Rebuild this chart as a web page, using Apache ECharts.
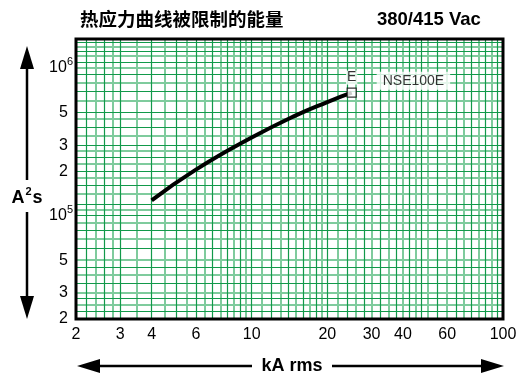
<!DOCTYPE html>
<html><head><meta charset="utf-8">
<script src="https://cdn.jsdelivr.net/npm/echarts@6/dist/echarts.min.js"></script>
<style>html,body{margin:0;padding:0;background:#fff}#c{width:526px;height:374px}</style>
</head><body><div id="c"></div>
<script>
// ---- data ----
const currentKA = [4, 6, 10, 15, 20, 25];
const energyA2s = [1.27e5, 2.05e5, 3.38e5, 4.78e5, 5.88e5, 6.8e5];
const curveName = 'NSE100E';
const curveTag = 'E';
const chartTitle = '热应力曲线被限制的能量';
const voltageText = '380/415 Vac';
const xAxisTitle = 'kA rms';
const xTickValues = [2, 3, 4, 6, 10, 20, 30, 40, 60, 100];
const xTickLabels = ['2', '3', '4', '6', '10', '20', '30', '40', '60', '100'];
const yTickValues = [2e4, 3e4, 5e4, 1e5, 2e5, 3e5, 5e5, 1e6];
const yTickLabels = ['2', '3', '5', '10^5', '2', '3', '5', '10^6'];
const xGridValues = [2.2, 2.4, 2.6, 2.8, 3, 3.5, 4, 4.5, 5, 5.5, 6, 6.5, 7, 7.5, 8, 8.5, 9, 9.5, 10,
  11, 12, 13, 14, 15, 16, 17, 18, 19, 20, 22, 24, 26, 28, 30, 32.5, 35, 37.5, 40, 42.5, 45, 47.5,
  50, 55, 60, 65, 70, 75, 80, 85, 90, 95];
const yGridValues = [2.25e4, 2.5e4, 2.75e4, 3e4, 3.5e4, 4e4, 4.5e4, 5e4, 6e4, 7e4, 8e4, 9e4,
  1e5, 1.1e5, 1.2e5, 1.4e5, 1.6e5, 1.8e5, 2e5, 2.25e5, 2.5e5, 2.75e5, 3e5, 3.5e5, 4e5, 4.5e5,
  5e5, 6e5, 7e5, 8e5, 9e5, 1e6, 1.1e6, 1.2e6, 1.3e6, 1.4e6, 1.5e6];

// ---- chart ----
const DARK = '#12994a', LIGHT = '#7fcb9d';
function gridLines(vals, key, parity) {
  return vals.filter((v, i) => i % 2 === parity).map(v => ({ [key]: v }));
}
const curveData = currentKA.map((x, i) => [x, energyA2s[i]]);
const endPoint = [curveData[curveData.length - 1]];

const chart = echarts.init(document.getElementById('c'), null, { renderer: 'canvas' });
const font = '"Liberation Sans", Arial, sans-serif';
chart.setOption({
  animation: false,
  backgroundColor: '#fff',
  grid: { left: 76, right: 23, top: 39, bottom: 55, show: true, backgroundColor: '#fff', borderWidth: 0 },
  xAxis: {
    type: 'log', min: 2, max: 100, logBase: 10,
    axisLine: { show: false }, axisTick: { show: false }, splitLine: { show: false },
    axisLabel: {
      customValues: xTickValues, margin: 8, color: '#000', fontSize: 16, fontFamily: font,
      formatter: v => { const i = xTickValues.findIndex(t => Math.abs(t - v) / t < 1e-6); return i >= 0 ? xTickLabels[i] : ''; }
    }
  },
  yAxis: {
    type: 'log', min: 2e4, max: 1.57e6, logBase: 10,
    axisLine: { show: false }, axisTick: { show: false }, splitLine: { show: false },
    axisLabel: {
      customValues: yTickValues, margin: 3, color: '#000', fontSize: 16, fontFamily: font,
      formatter: v => {
        const i = yTickValues.findIndex(t => Math.abs(t - v) / t < 1e-6);
        if (i < 0) return '';
        const t = yTickLabels[i];
        if (t.indexOf('^') >= 0) { const p = t.split('^'); return '{b|' + p[0] + '}{s|' + p[1] + '}'; }
        return '{n|' + t + '}';
      },
      rich: {
        n: { fontSize: 16, fontFamily: font, color: '#000', padding: [0, 5, 0, 0] },
        b: { fontSize: 16, fontFamily: font, color: '#000' },
        s: { fontSize: 11, fontFamily: font, color: '#000', padding: [0, 0, 12, 0] }
      }
    }
  },
  series: [
    {
      type: 'line', data: [], silent: true, z: 1,
      markLine: {
        silent: true, symbol: ['none', 'none'], label: { show: false }, animation: false,
        lineStyle: { color: LIGHT, width: 2, type: 'solid' },
        emphasis: { disabled: true },
        data: gridLines(xGridValues, 'xAxis', 1).concat(gridLines(yGridValues, 'yAxis', 1))
      }
    },
    {
      type: 'line', data: [], silent: true, z: 2,
      markLine: {
        silent: true, symbol: ['none', 'none'], label: { show: false }, animation: false,
        lineStyle: { color: DARK, width: 1.2, type: 'solid' },
        emphasis: { disabled: true },
        data: gridLines(xGridValues, 'xAxis', 0).concat(gridLines(yGridValues, 'yAxis', 0))
      }
    },
    {
      type: 'line', data: curveData, smooth: 0.5, showSymbol: false, z: 10,
      lineStyle: { color: '#000', width: 4, cap: 'butt' }
    },
    {
      type: 'scatter', data: endPoint, symbol: 'rect', symbolSize: 9, z: 11,
      itemStyle: { color: '#fff', borderColor: '#000', borderWidth: 1.2 },
      label: { show: true, position: 'top', distance: 3, formatter: curveTag, color: '#000',
        fontSize: 14, fontFamily: font, backgroundColor: '#fff', padding: [0, 1, 0, 1] }
    },
    {
      type: 'scatter', data: endPoint, symbolSize: 0, z: 11,
      label: { show: true, position: 'right', offset: [20, -12], formatter: curveName, color: '#000',
        fontSize: 14, fontFamily: font, backgroundColor: '#fff', padding: [2, 6, 2, 6] }
    }
  ],
  graphic: [
    { type: 'rect', z: 100, silent: true, shape: { x: 76, y: 39, width: 427, height: 280 },
      style: { fill: null, stroke: '#000', lineWidth: 3 } },
    { type: 'text', left: 80, top: 10, style: { text: chartTitle, font: 'bold 18.5px "Noto Sans CJK SC", sans-serif', fill: '#000' } },
    { type: 'text', left: 377, top: 10, style: { text: voltageText, font: 'bold 18.5px "Liberation Sans", Arial, sans-serif', fill: '#000' } },
    // y arrow
    { type: 'line', shape: { x1: 27, y1: 66, x2: 27, y2: 180 }, style: { stroke: '#000', lineWidth: 2.5 } },
    { type: 'line', shape: { x1: 27, y1: 212, x2: 27, y2: 299 }, style: { stroke: '#000', lineWidth: 2.5 } },
    { type: 'polygon', shape: { points: [[27, 46], [20, 69], [34, 69]] }, style: { fill: '#000' } },
    { type: 'polygon', shape: { points: [[27, 319], [20, 296], [34, 296]] }, style: { fill: '#000' } },
    { type: 'text', x: 27, y: 198, style: { text: '{a|A}{s|2}{a|s}', align: 'center', verticalAlign: 'middle',
      rich: { a: { font: 'bold 18px "Liberation Sans", Arial, sans-serif', fill: '#000' },
              s: { font: 'bold 11px "Liberation Sans", Arial, sans-serif', fill: '#000', padding: [0, 1, 12, 1] } } } },
    // x arrow
    { type: 'line', shape: { x1: 98, y1: 366, x2: 252, y2: 366 }, style: { stroke: '#000', lineWidth: 2.5 } },
    { type: 'line', shape: { x1: 332, y1: 366, x2: 483, y2: 366 }, style: { stroke: '#000', lineWidth: 2.5 } },
    { type: 'polygon', shape: { points: [[77, 366], [100, 359], [100, 373]] }, style: { fill: '#000' } },
    { type: 'polygon', shape: { points: [[504, 366], [481, 359], [481, 373]] }, style: { fill: '#000' } },
    { type: 'text', x: 292, y: 366, style: { text: xAxisTitle, align: 'center', verticalAlign: 'middle',
      font: 'bold 18px "Liberation Sans", Arial, sans-serif', fill: '#000' } }
  ]
});
</script></body></html>
